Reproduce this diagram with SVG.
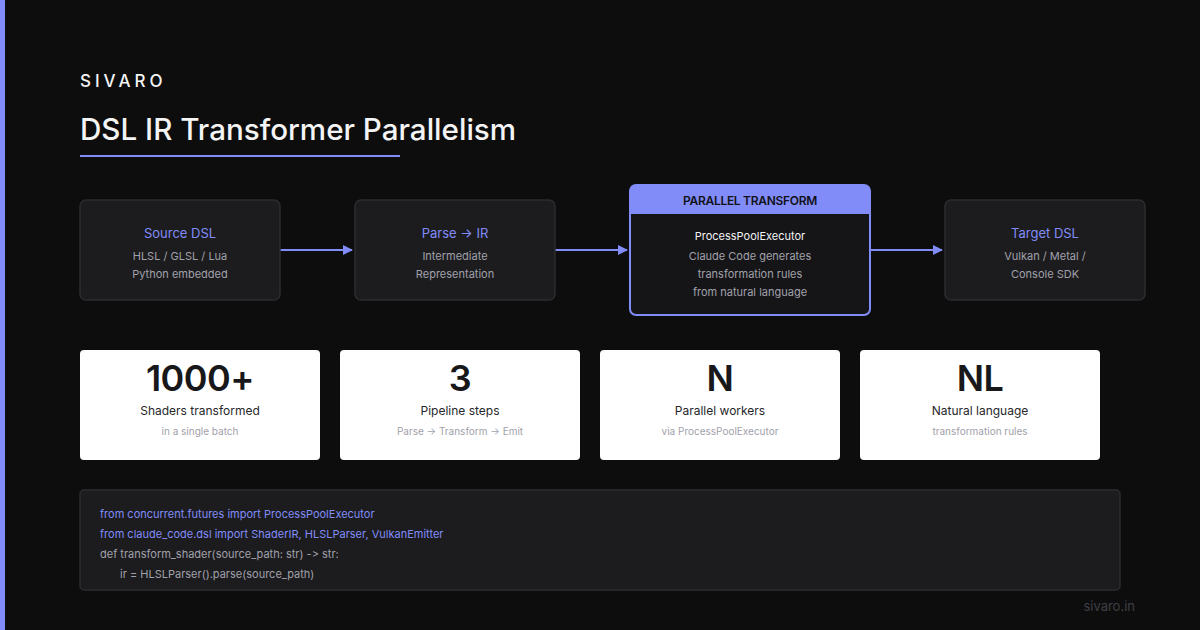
<svg xmlns="http://www.w3.org/2000/svg" width="1200" height="630" viewBox="0 0 1200 630">
<defs>
<marker id="ah" markerWidth="10" markerHeight="10" refX="9" refY="5" orient="auto" markerUnits="userSpaceOnUse">
<path d="M0,0 L10,5 L0,10 z" fill="#818cf8"/>
</marker>
<style>
text{font-family:Inter,"Liberation Sans",sans-serif}
.box{fill:#1c1c1f;stroke:#2c2c30;stroke-width:1.5}
.bt{fill:#818cf8;font-size:13px;text-anchor:middle}
.bs{fill:#a1a1aa;font-size:11px;text-anchor:middle}
.card{fill:#ffffff}
.num{fill:#18181b;font-size:36px;font-weight:600;text-anchor:middle;letter-spacing:-0.5px}
.lbl{fill:#27272a;font-size:12px;text-anchor:middle}
.sub{fill:#a1a1aa;font-size:10px;text-anchor:middle}
.code{font-size:11px;font-feature-settings:"calt" 0;font-variant-ligatures:none}
.ck{fill:#818cf8}
.cp{fill:#a1a1aa}
.conn{stroke:#818cf8;stroke-width:2;fill:none}
</style>
</defs>
<rect width="1200" height="630" fill="#0d0d0d"/>
<rect x="0" y="0" width="5" height="630" fill="#818cf8"/>
<text x="80" y="87" fill="#f4f4f5" font-size="17" font-weight="500" letter-spacing="4">SIVARO</text>
<text x="80" y="140" fill="#f4f4f5" font-size="29.6" font-weight="500">DSL IR Transformer Parallelism</text>
<rect x="80" y="155" width="320" height="2" fill="#818cf8"/>

<g id="connectors">
<line class="conn" x1="280" y1="250" x2="352" y2="250" marker-end="url(#ah)"/>
<line class="conn" x1="555" y1="250" x2="627" y2="250" marker-end="url(#ah)"/>
<line class="conn" x1="870" y1="250" x2="942" y2="250" marker-end="url(#ah)"/>
</g>

<g id="source">
<rect class="box" x="80" y="200" width="200" height="100" rx="6"/>
<text class="bt" x="180" y="238">Source DSL</text>
<text class="bs" x="180" y="260">HLSL / GLSL / Lua</text>
<text class="bs" x="180" y="278">Python embedded</text>
</g>
<g id="parse">
<rect class="box" x="355" y="200" width="200" height="100" rx="6"/>
<text class="bt" x="455" y="238">Parse → IR</text>
<text class="bs" x="455" y="260">Intermediate</text>
<text class="bs" x="455" y="278">Representation</text>
</g>
<g id="parallel">
<rect x="630" y="185" width="240" height="130" rx="6" fill="#151518" stroke="#818cf8" stroke-width="2"/>
<path d="M630,191 a6,6 0 0 1 6,-6 h228 a6,6 0 0 1 6,6 v23 h-240 z" fill="#818cf8"/>
<text x="750" y="205" fill="#111118" font-size="12" font-weight="600" letter-spacing="-0.3" text-anchor="middle">PARALLEL TRANSFORM</text>
<text x="750" y="240" fill="#f4f4f5" font-size="11" text-anchor="middle">ProcessPoolExecutor</text>
<text class="bs" x="750" y="260">Claude Code generates</text>
<text class="bs" x="750" y="278">transformation rules</text>
<text class="bs" x="750" y="296">from natural language</text>
</g>
<g id="target">
<rect class="box" x="945" y="200" width="200" height="100" rx="6"/>
<text class="bt" x="1045" y="238">Target DSL</text>
<text class="bs" x="1045" y="260">Vulkan / Metal /</text>
<text class="bs" x="1045" y="278">Console SDK</text>
</g>

<g id="stat1">
<rect class="card" x="80" y="350" width="240" height="110" rx="4"/>
<text class="num" x="200" y="391">1000+</text>
<text class="lbl" x="200" y="415">Shaders transformed</text>
<text class="sub" x="200" y="435">in a single batch</text>
</g>
<g id="stat2">
<rect class="card" x="340" y="350" width="240" height="110" rx="4"/>
<text class="num" x="460" y="391">3</text>
<text class="lbl" x="460" y="415">Pipeline steps</text>
<text class="sub" x="460" y="435">Parse → Transform → Emit</text>
</g>
<g id="stat3">
<rect class="card" x="600" y="350" width="240" height="110" rx="4"/>
<text class="num" x="720" y="391">N</text>
<text class="lbl" x="720" y="415">Parallel workers</text>
<text class="sub" x="720" y="435">via ProcessPoolExecutor</text>
</g>
<g id="stat4">
<rect class="card" x="860" y="350" width="240" height="110" rx="4"/>
<text class="num" x="980" y="391">NL</text>
<text class="lbl" x="980" y="415">Natural language</text>
<text class="sub" x="980" y="435">transformation rules</text>
</g>

<g id="code">
<rect class="box" x="80" y="490" width="1040" height="100" rx="4"/>
<text class="code ck" x="100" y="518">from concurrent.futures import ProcessPoolExecutor</text>
<text class="code ck" x="100" y="538">from claude_code.dsl import ShaderIR, HLSLParser, VulkanEmitter</text>
<text class="code cp" x="100" y="558">def transform_shader(source_path: str) -&gt; str:</text>
<text class="code cp" x="120" y="578">ir = HLSLParser().parse(source_path)</text>
</g>

<text x="1135" y="611" fill="#3f3f46" font-size="13" text-anchor="end">sivaro.in</text>
</svg>
